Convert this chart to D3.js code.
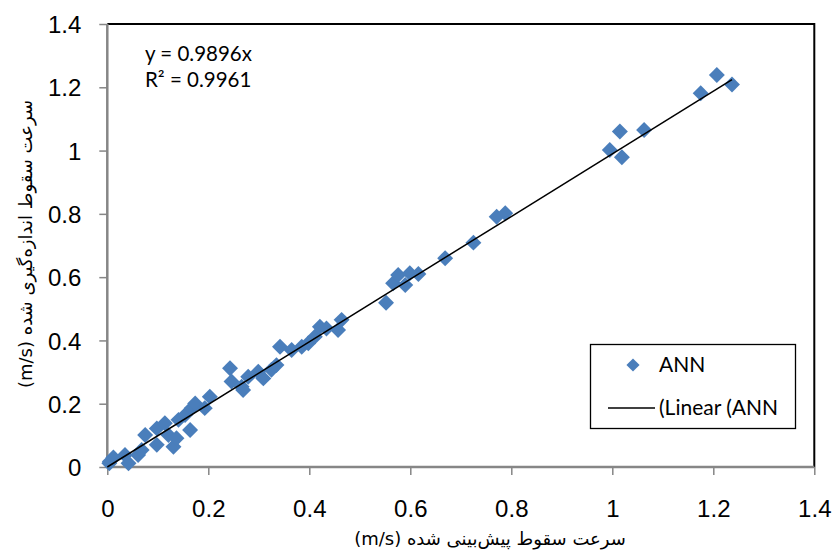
<!DOCTYPE html>
<html><head><meta charset="utf-8">
<script src="https://cdn.jsdelivr.net/npm/d3@7"></script>
<style>body{margin:0;background:#fff}svg{display:block}</style>
</head><body><svg id="c" width="835" height="550"></svg>
<script>
const predicted = [0.004,0.005,0.012,0.035,0.042,0.061,0.068,0.075,0.098,0.098,0.114,0.121,0.131,0.137,0.141,0.154,0.164,0.167,0.174,0.193,0.203,0.243,0.246,0.266,0.269,0.279,0.299,0.309,0.325,0.335,0.342,0.365,0.385,0.398,0.411,0.421,0.434,0.457,0.464,0.552,0.566,0.576,0.590,0.599,0.616,0.669,0.725,0.771,0.788,0.995,1.015,1.019,1.063,1.175,1.207,1.237];
const measured  = [0.012,0.017,0.030,0.038,0.012,0.038,0.054,0.101,0.122,0.070,0.138,0.101,0.064,0.091,0.149,0.164,0.117,0.186,0.201,0.186,0.222,0.312,0.270,0.254,0.243,0.285,0.301,0.280,0.307,0.322,0.380,0.370,0.380,0.391,0.412,0.443,0.438,0.433,0.465,0.519,0.581,0.607,0.575,0.612,0.610,0.660,0.709,0.791,0.802,1.002,1.060,0.979,1.065,1.181,1.239,1.209];
const xTicks = [0,0.2,0.4,0.6,0.8,1,1.2,1.4];
const yTicks = [0,0.2,0.4,0.6,0.8,1,1.2,1.4];
const slope = 0.9896;
const equation = "y = 0.9896x";
const r2 = "R² = 0.9961";
const xTitle = "سرعت سقوط پیش‌بینی شده (m/s)";
const yTitle = "سرعت سقوط اندازه‌گیری شده (m/s)";
const legendLabels = ["ANN","(Linear (ANN"];

const svg = d3.select("#c");
const L=107.3, R=814.3, T=24, B=467;
const x = d3.scaleLinear().domain([0,1.4]).range([L,R]);
const y = d3.scaleLinear().domain([0,1.4]).range([B,T]);
const blue = "#4a7ebb", gray="#868686";

// top & right border
svg.append("path").attr("d",`M${L},${T}H${R}V${B}`).attr("fill","none").attr("stroke","#000").attr("stroke-width",2);

// axes
const fmt = d => d3.format("~g")(d);
const gx = svg.append("g").attr("transform",`translate(0,${B})`)
  .call(d3.axisBottom(x).tickValues(xTicks).tickFormat(fmt).tickSize(8).tickPadding(42));
const gy = svg.append("g").attr("transform",`translate(${L},0)`)
  .call(d3.axisLeft(y).tickValues(yTicks).tickFormat(fmt).tickSize(8).tickPadding(18));
[gx,gy].forEach(g=>{
  g.select(".domain").attr("stroke",gray).attr("stroke-width",2.5);
  g.selectAll(".tick line").attr("stroke",gray).attr("stroke-width",1.5);
  g.selectAll(".tick text").attr("fill","#000").style("font-family","'Liberation Sans',Arial,sans-serif").style("font-size","24px");
});
gx.select(".domain").attr("d",`M${L},0H${R}`);
gy.select(".domain").attr("d",`M0,${B}V${T}`);
gx.selectAll(".tick text").attr("dy","0");
gy.selectAll(".tick text").attr("dy","0.36em");

// points
const diamond = d3.symbol().type(d3.symbolDiamond2).size(162);
svg.append("g").selectAll("path").data(predicted).join("path")
  .attr("d",diamond)
  .attr("transform",(d,i)=>`translate(${x(d)},${y(measured[i])})`)
  .attr("fill",blue);

// trendline
const xmax = d3.max(predicted);
svg.append("line").attr("x1",x(0)).attr("y1",y(0)).attr("x2",x(xmax)).attr("y2",y(slope*xmax))
  .attr("stroke","#000").attr("stroke-width",1.5);

// equation
const eq = svg.append("g").style("font-family","Lato,'Open Sans',sans-serif").style("font-size","20.5px");
eq.append("text").attr("x",145).attr("y",61).text(equation);
eq.append("text").attr("x",145).attr("y",87).text(r2);

// legend
const lg = svg.append("g");
lg.append("rect").attr("x",590.5).attr("y",344.5).attr("width",205).attr("height",84).attr("fill","#fff").attr("stroke","#000").attr("stroke-width",1.3);
lg.append("path").attr("d",d3.symbol().type(d3.symbolDiamond2).size(110)).attr("transform","translate(633,365)").attr("fill",blue);
lg.append("line").attr("x1",608).attr("x2",655).attr("y1",408).attr("y2",408).attr("stroke","#000").attr("stroke-width",1.5);
lg.selectAll("text").data(legendLabels).join("text")
  .attr("x",659).attr("y",(d,i)=>i?415:372).text(d=>d)
  .style("font-family","Lato,'Open Sans',sans-serif").style("font-size","21px");

// axis titles
svg.append("text").attr("x",490).attr("y",545).attr("text-anchor","middle").attr("direction","rtl")
  .style("unicode-bidi","embed")
  .style("font-family","'DejaVu Sans','Noto Sans',sans-serif").style("font-size","18px").text(xTitle);
svg.append("text").attr("transform","translate(32,244) rotate(-90)").attr("text-anchor","middle").attr("direction","rtl")
  .style("unicode-bidi","embed")
  .style("font-family","'DejaVu Sans','Noto Sans',sans-serif").style("font-size","18px").text(yTitle);
</script></body></html>
